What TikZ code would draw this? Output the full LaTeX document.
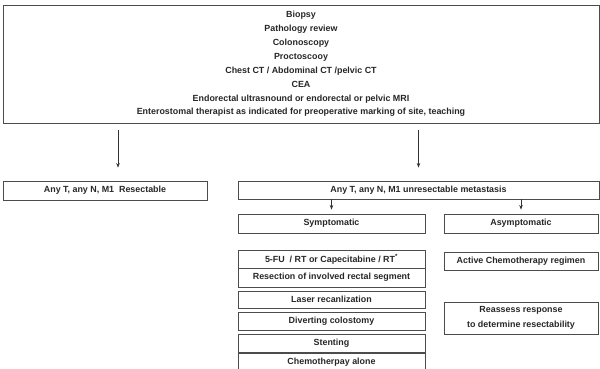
\documentclass[tikz,border=0pt]{standalone}
\usepackage{fontspec}
\setmainfont{Liberation Sans}
\usetikzlibrary{arrows.meta,calc}
\begin{document}
\begin{tikzpicture}[x=1pt,y=-1pt,
  box/.style={draw=black!70, line width=0.9pt, inner sep=0pt, align=center,
    text=black!85, font=\bfseries\fontsize{8.9}{10}\selectfont},
  arr/.style={-{Stealth[length=4.5pt,width=3.5pt]}, line width=0.6pt, black!80}]
\useasboundingbox (0,0) rectangle (600,369);
\node[box, minimum width=596pt, minimum height=118pt, font=\bfseries\fontsize{8.9}{13.9}\selectfont] (top) at (301,64) {Biopsy\\Pathology review\\Colonoscopy\\Proctoscooy\\Chest CT / Abdominal CT /pelvic CT\\CEA\\Endorectal ultrasnound or endorectal or pelvic MRI\\Enterostomal therapist as indicated for preoperative marking of site, teaching};
\node[box, minimum width=204pt, minimum height=19pt] (res) at (105,190.5) {Any T, any N, M1 \ Resectable};
\node[box, minimum width=361pt, minimum height=18pt] (unres) at (418.5,190) {Any T, any N, M1 unresectable metastasis};
\node[box, minimum width=187pt, minimum height=19pt] (symp) at (331.5,223.5) {Symptomatic};
\node[box, minimum width=154pt, minimum height=19pt] (asymp) at (521,223.5) {Asymptomatic};
\node[box, minimum width=187pt, minimum height=18pt] (fu) at (331.5,259) {5-FU \ / RT or Capecitabine / RT\textsuperscript{*}};
\node[box, minimum width=187pt, minimum height=19pt] (resec) at (331.5,277.5) {Resection of involved rectal segment};
\node[box, minimum width=187pt, minimum height=17pt] (laser) at (331.5,299.5) {Laser recanlization};
\node[box, minimum width=187pt, minimum height=18pt] (divert) at (331.5,321) {Diverting colostomy};
\node[box, minimum width=187pt, minimum height=19pt] (stent) at (331.5,343.5) {Stenting};
\node[box, minimum width=187pt, minimum height=20pt] (chemo) at (331.5,362.5) {Chemotherpay alone};
\node[box, minimum width=154pt, minimum height=18pt] (active) at (521,261) {Active Chemotherapy regimen};
\node[box, minimum width=154pt, minimum height=32pt, font=\bfseries\fontsize{8.9}{15}\selectfont] (reass) at (521,318) {Reassess response\\to determine resectability};
\coordinate (la) at (118,0);
\draw[arr] ($(top.south -| la)+(0,7)$) -- ($(res.north -| la)+(0,-13)$);
\draw[arr] ($(top.south -| unres.north)+(0,7)$) -- ($(unres.north)+(0,-13)$);
\draw[arr] (unres.south -| symp.north) -- ($(symp.north)+(0,-4)$);
\draw[arr] (unres.south -| asymp.north) -- ($(asymp.north)+(0,-4)$);
\end{tikzpicture}
\end{document}
